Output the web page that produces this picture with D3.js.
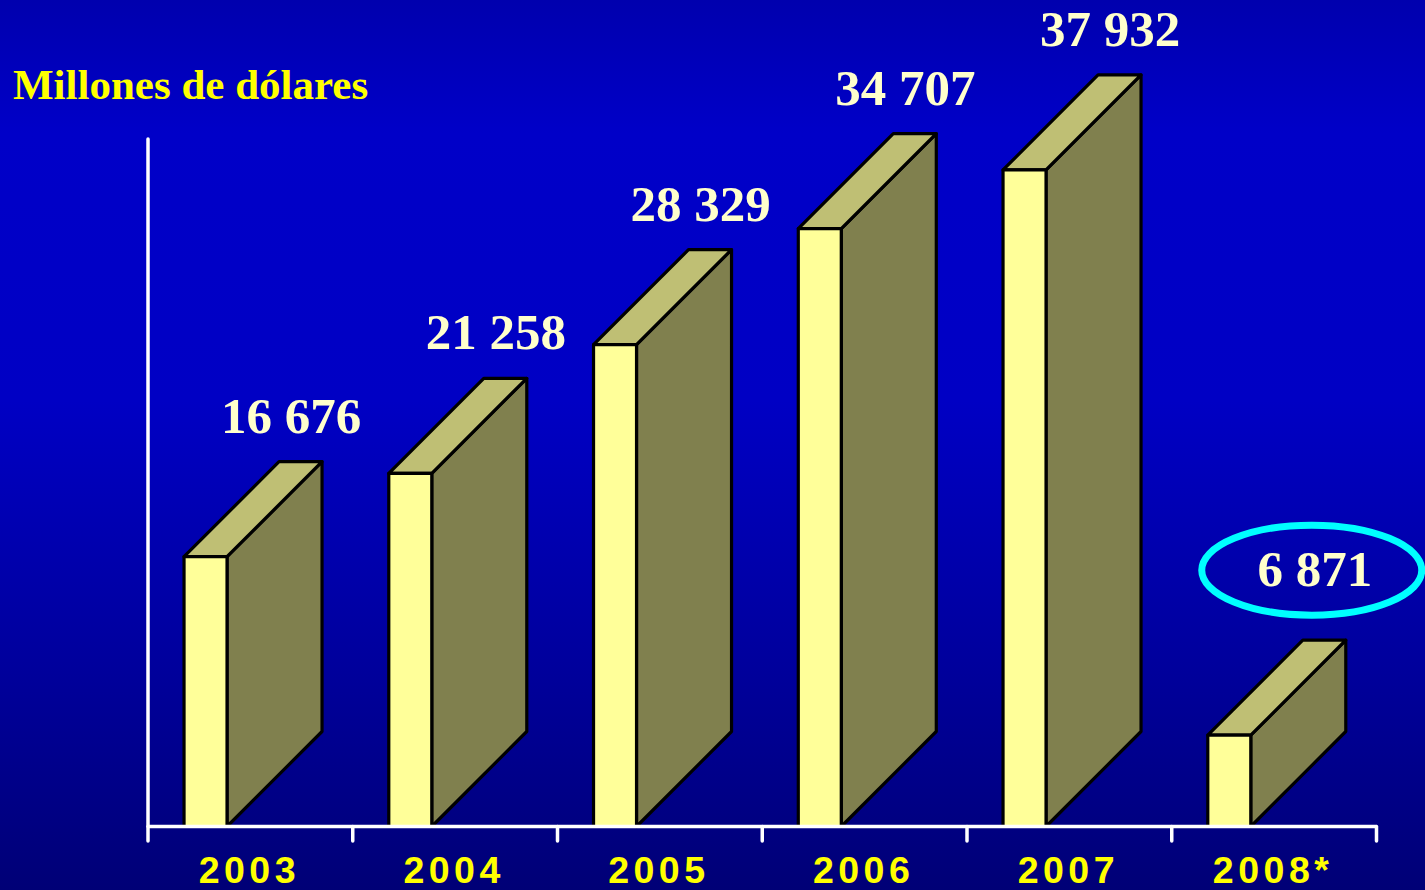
<!DOCTYPE html>
<html>
<head>
<meta charset="utf-8">
<script src="https://cdn.jsdelivr.net/npm/d3@7"></script>
<style>
  html, body { margin: 0; padding: 0; background: #0000b0; }
  svg { display: block; }
</style>
</head>
<body>
<svg id="chart" width="1425" height="890"></svg>
<script>
// ---- data ----
const years = ["2003", "2004", "2005", "2006", "2007", "2008*"];
const values = [16676, 21258, 28329, 34707, 37932, 6871];
const valueLabels = ["16 676", "21 258", "28 329", "34 707", "37 932", "6 871"];
const highlighted = ["2008*"];
const yAxisTitle = "Millones de dólares";

(function () {
// ---- layout ----
const W = 1425, H = 890;
const plotLeft = 148, plotRight = 1376.5, plotBase = 826.5, plotTop = 139;
const depth = 95;

const svg = d3.select("#chart");

// background gradient
const defs = svg.append("defs");
const grad = defs.append("linearGradient").attr("id", "bg").attr("x1", 0).attr("y1", 0).attr("x2", 0).attr("y2", 1);
[[0, "#0000ae"], [0.15, "#0000c8"], [0.45, "#0000c4"], [0.75, "#00009c"], [1, "#000076"]]
  .forEach(([o, c]) => grad.append("stop").attr("offset", o).attr("stop-color", c));
svg.append("rect").attr("width", W).attr("height", H).attr("fill", "url(#bg)");

const x = d3.scaleBand().domain(years).range([plotLeft, plotRight]).padding(0);
const y = d3.scaleLinear().domain([1850, 39630]).range([plotBase, plotTop]);

const bw = x.bandwidth();
const frontOffset = bw * 0.176;
const frontWidth = bw * 0.21;

// bars
const bars = svg.append("g").selectAll("g").data(years).join("g");
bars.each(function (yr, i) {
  const g = d3.select(this);
  const x0 = x(yr) + frontOffset, x1 = x0 + frontWidth;
  const yt = y(values[i]);
  const style = s => s.attr("stroke", "#000").attr("stroke-width", 3.2).attr("stroke-linejoin", "round");
  // side face
  g.append("path")
    .attr("d", `M${x1},${plotBase} L${x1},${yt} L${x1 + depth},${yt - depth} L${x1 + depth},${plotBase - depth} Z`)
    .attr("fill", "#80804e").call(style);
  // top face
  g.append("path")
    .attr("d", `M${x0},${yt} L${x0 + depth},${yt - depth} L${x1 + depth},${yt - depth} L${x1},${yt} Z`)
    .attr("fill", "#bfbf74").call(style);
  // front face
  g.append("rect")
    .attr("x", x0).attr("y", yt).attr("width", frontWidth).attr("height", plotBase - yt)
    .attr("fill", "#ffff99").call(style);
});

// axes (drawn over bar bottoms)
const axisG = svg.append("g");
const edges = years.map(d => x(d)).concat([plotRight]);
axisG.selectAll("line.edge").data(edges).join("line")
  .attr("class", "edge")
  .attr("x1", d => d).attr("x2", d => d)
  .attr("y1", plotBase).attr("y2", plotBase + 14.5)
  .attr("stroke", "#fff").attr("stroke-width", 3.5).attr("stroke-linecap", "round");
axisG.append("line")
  .attr("x1", plotLeft).attr("x2", plotLeft).attr("y1", plotTop).attr("y2", plotBase)
  .attr("stroke", "#fff").attr("stroke-width", 3.5).attr("stroke-linecap", "round");
axisG.append("line")
  .attr("x1", plotLeft).attr("x2", plotRight).attr("y1", plotBase).attr("y2", plotBase)
  .attr("stroke", "#fff").attr("stroke-width", 3.5);

// category labels
svg.append("g").selectAll("text").data(years).join("text")
  .attr("x", d => x(d) + bw / 2 - 1)
  .attr("y", 883)
  .attr("text-anchor", "middle")
  .attr("fill", "#ffff00")
  .style("font-family", "'Liberation Sans', Arial, sans-serif")
  .style("font-weight", "bold")
  .style("font-size", "37.5px")
  .style("letter-spacing", "4.5px")
  .text(d => d);

// value labels
const lbl = svg.append("g");
years.forEach((yr, i) => {
  const hi = highlighted.includes(yr);
  const cx = x(yr) + 143;
  const backTop = y(values[i]) - depth;
  const by = hi ? backTop - 54 : backTop - 29;
  if (hi) {
    lbl.append("ellipse")
      .attr("cx", cx - 3).attr("cy", by - 16)
      .attr("rx", 110).attr("ry", 45)
      .attr("fill", "none").attr("stroke", "#00ffff").attr("stroke-width", 7);
  }
  lbl.append("text")
    .attr("x", cx).attr("y", by)
    .attr("text-anchor", "middle")
    .attr("fill", "#ffffcc")
    .style("font-family", "'Liberation Serif', 'Times New Roman', serif")
    .style("font-weight", "bold")
    .style("font-size", "51px")
    .text(valueLabels[i]);
});

// y-axis title
svg.append("text")
  .attr("x", 13).attr("y", 99)
  .attr("fill", "#ffff00")
  .style("font-family", "'Liberation Serif', 'Times New Roman', serif")
  .style("font-weight", "bold")
  .style("font-size", "43px")
  .text(yAxisTitle);
})();
</script>
</body>
</html>
